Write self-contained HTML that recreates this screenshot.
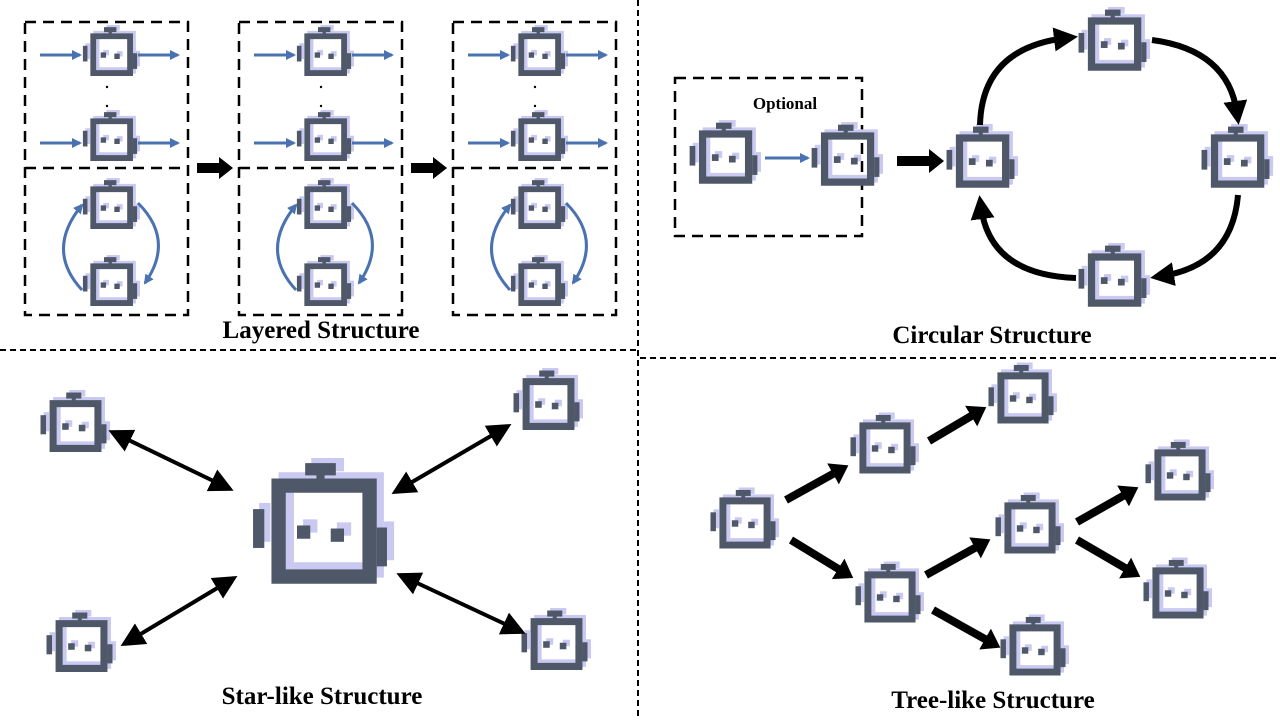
<!DOCTYPE html>
<html><head><meta charset="utf-8"><style>
html,body{margin:0;padding:0;background:#fff;}
svg{display:block;}
text{font-family:"Liberation Serif",serif;font-weight:bold;fill:#000;}
</style></head><body>
<svg width="1280" height="720" viewBox="0 0 1280 720" xmlns="http://www.w3.org/2000/svg">
<defs>
<symbol id="r" viewBox="0 0 145 135">
  <g fill="#c9c9f2">
    <rect x="64" y="0" width="32" height="13"/>
    <rect x="76" y="12" width="8" height="10"/>
    <path fill-rule="evenodd" d="M32 14 H135 V117 H32 Z M47 29 V102 H120 V29 Z"/>
    <rect x="13" y="44" width="11" height="38"/>
    <rect x="135" y="62" width="10" height="38"/>
    <rect x="56" y="60" width="14" height="13"/>
    <rect x="89" y="63" width="14" height="13"/>
  </g>
  <g fill="#4f5869">
    <rect x="58" y="5" width="30" height="12"/>
    <rect x="69" y="16" width="8" height="10"/>
    <path fill-rule="evenodd" d="M25 20 H128 V123 H25 Z M39 34 V109 H114 V34 Z"/>
    <rect x="7" y="50" width="11" height="38"/>
    <rect x="128" y="68" width="10" height="38"/>
    <rect x="50" y="66" width="13" height="13"/>
    <rect x="83" y="69" width="13" height="13"/>
  </g>
</symbol>
<marker id="bh" markerWidth="10" markerHeight="10" refX="8" refY="5" orient="auto" markerUnits="userSpaceOnUse"><path d="M0,0 L10,5 L0,10 Z" fill="#4a72b0"/></marker>
<marker id="kh" markerWidth="4" markerHeight="4" refX="2" refY="2" orient="auto" markerUnits="strokeWidth"><path d="M0,0 L4,2 L0,4 Z" fill="#000"/></marker>
<marker id="kh2" markerWidth="6" markerHeight="6" refX="5" refY="3" orient="auto-start-reverse" markerUnits="strokeWidth"><path d="M0,0 L6,3 L0,6 Z" fill="#000"/></marker>
<marker id="kh3" markerWidth="3" markerHeight="3" refX="1" refY="1.5" orient="auto" markerUnits="strokeWidth"><path d="M0,0 L2.2,1.5 L0,3 Z" fill="#000"/></marker>
</defs>

<line x1="638" y1="0" x2="638" y2="720" stroke="#000" stroke-width="2" stroke-dasharray="6,4"/>
<line x1="0" y1="350" x2="638" y2="350" stroke="#000" stroke-width="2" stroke-dasharray="6,4"/>
<line x1="640" y1="358" x2="1280" y2="358" stroke="#000" stroke-width="2" stroke-dasharray="6,4"/>

<g id="lay">
  <rect x="25" y="22" width="163" height="293" fill="none" stroke="#000" stroke-width="2.5" stroke-dasharray="11,7"/>
  <line x1="25" y1="168" x2="188" y2="168" stroke="#000" stroke-width="2.5" stroke-dasharray="11,7"/>
  <use href="#r" x="80" y="25" width="60" height="56"/>
  <use href="#r" x="80" y="110" width="60" height="56"/>
  <use href="#r" x="80" y="178" width="60" height="56"/>
  <use href="#r" x="80" y="255" width="60" height="56"/>
  <g stroke="#4a72b0" stroke-width="3" fill="none" marker-end="url(#bh)">
    <line x1="40" y1="55" x2="80" y2="55"/>
    <line x1="138" y1="55" x2="178" y2="55"/>
    <line x1="40" y1="143" x2="80" y2="143"/>
    <line x1="138" y1="143" x2="178" y2="143"/>
    <path d="M82 290 Q45 250 82 205"/>
    <path d="M138 203 Q175 240 145 283"/>
  </g>
  <circle cx="107" cy="87" r="1.2" fill="#000"/>
  <circle cx="107" cy="106" r="1.2" fill="#000"/>
</g>
<use href="#lay" x="214" y="0"/>
<use href="#lay" x="428" y="0"/>
<g fill="#000">
  <path d="M197 163 H219 V157 L233 168 L219 179 V173 H197 Z"/>
  <path d="M411 163 H433 V157 L447 168 L433 179 V173 H411 Z"/>
</g>
<text x="321" y="338" font-size="25" text-anchor="middle">Layered Structure</text>

<rect x="675" y="78" width="187" height="158" fill="none" stroke="#000" stroke-width="2.5" stroke-dasharray="11,7"/>
<text x="785" y="109" font-size="17" text-anchor="middle">Optional</text>
<use href="#r" x="686" y="120" width="75" height="70"/>
<use href="#r" x="808" y="122" width="75" height="70"/>
<line x1="765" y1="158" x2="808" y2="158" stroke="#4a72b0" stroke-width="3" marker-end="url(#bh)"/>
<path d="M897 156 H929 V149 L944 161 L929 173 V166 H897 Z" fill="#000"/>
<use href="#r" x="942" y="124" width="77" height="70"/>
<use href="#r" x="1074" y="7" width="77" height="70"/>
<use href="#r" x="1197" y="124" width="77" height="70"/>
<use href="#r" x="1074" y="243" width="77" height="70"/>
<g stroke="#000" stroke-width="6" fill="none" marker-end="url(#kh)">
  <path d="M980 125 Q982 48 1066 38"/>
  <path d="M1152 40 Q1228 50 1237 113"/>
  <path d="M1238 195 Q1232 265 1162 276"/>
  <path d="M1076 278 Q990 275 981 207"/>
</g>
<text x="992" y="343" font-size="25" text-anchor="middle">Circular Structure</text>

<use href="#r" x="245" y="458" width="150" height="138"/>
<use href="#r" x="36" y="390" width="75" height="68"/>
<use href="#r" x="509" y="368" width="75" height="68"/>
<use href="#r" x="42" y="610" width="75" height="68"/>
<use href="#r" x="517" y="608" width="75" height="68"/>
<g stroke="#000" stroke-width="4" marker-start="url(#kh2)" marker-end="url(#kh2)">
  <line x1="112" y1="432" x2="230" y2="489"/>
  <line x1="508" y1="426" x2="395" y2="492"/>
  <line x1="124" y1="644" x2="234" y2="578"/>
  <line x1="400" y1="575" x2="522" y2="632"/>
</g>
<text x="322" y="704" font-size="25" text-anchor="middle">Star-like Structure</text>

<use href="#r" x="707" y="486" width="72" height="70"/>
<use href="#r" x="847" y="411" width="72" height="70"/>
<use href="#r" x="852" y="560" width="72" height="70"/>
<use href="#r" x="985" y="361" width="72" height="70"/>
<use href="#r" x="992" y="491" width="72" height="70"/>
<use href="#r" x="997" y="613" width="72" height="70"/>
<use href="#r" x="1142" y="438" width="72" height="70"/>
<use href="#r" x="1140" y="556" width="72" height="70"/>
<g stroke="#000" stroke-width="8" marker-end="url(#kh3)">
  <line x1="786" y1="500" x2="840" y2="470"/>
  <line x1="791" y1="540" x2="845" y2="573"/>
  <line x1="929" y1="441" x2="978" y2="412"/>
  <line x1="926" y1="575" x2="982" y2="544"/>
  <line x1="933" y1="610" x2="992" y2="643"/>
  <line x1="1077" y1="522" x2="1130" y2="492"/>
  <line x1="1077" y1="540" x2="1132" y2="572"/>
</g>
<text x="993" y="708" font-size="25" text-anchor="middle">Tree-like Structure</text>
</svg>
</body></html>
